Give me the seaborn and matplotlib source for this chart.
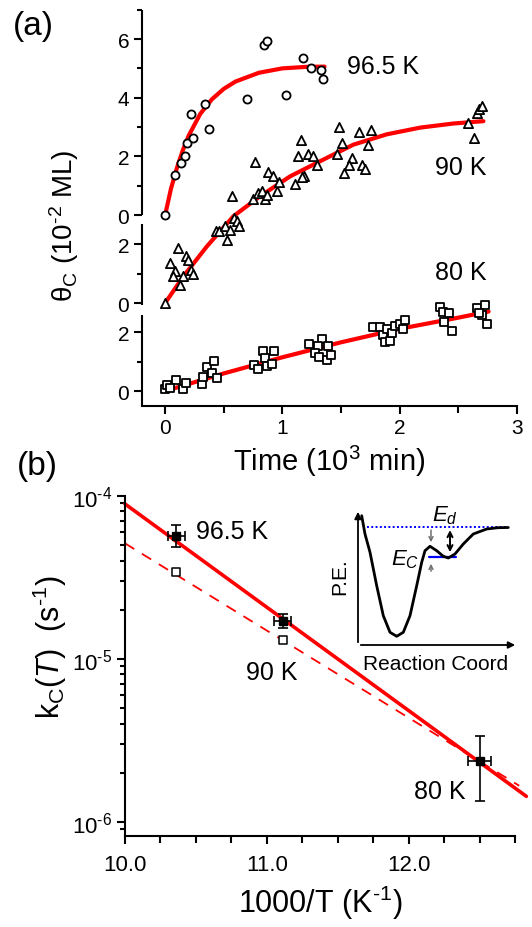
import numpy as np
import pandas as pd
import matplotlib
matplotlib.use('Agg')
import matplotlib.pyplot as plt
import seaborn as sns

# ---------------- panel (a): coverage vs time ----------------
# 96.5 K (circles), time in 10^3 min, coverage in 10^-2 ML
t_965 = [0.0, 0.08, 0.137, 0.17, 0.19, 0.24, 0.22, 0.34, 0.375, 0.70, 0.845, 0.87,
         1.03, 1.18, 1.243, 1.33, 1.345]
th_965 = [0.0, 1.37, 1.79, 2.01, 2.47, 2.61, 3.44, 3.79, 2.92, 3.97, 5.79, 5.94,
          4.09, 5.35, 5.00, 4.95, 4.65]
fit_t_965 = [0.0, 0.05, 0.1, 0.15, 0.2, 0.3, 0.4, 0.5, 0.6, 0.8, 1.0, 1.2, 1.36]
fit_th_965 = [0.0, 0.9, 1.6, 2.2, 2.7, 3.45, 3.95, 4.3, 4.55, 4.85, 5.0, 5.05, 5.06]

# 90 K (triangles)
t_90 = [0.0, 0.108, 0.043, 0.179, 0.199, 0.085, 0.065, 0.151, 0.128, 0.219, 0.242,
        0.569, 0.435, 0.463, 0.512, 0.555, 0.532, 0.589, 0.612, 0.634,
        0.768, 0.754, 0.796, 0.825, 0.853, 0.873, 0.953, 0.881, 0.924, 0.975,
        1.109, 1.186, 1.166, 1.132, 1.158, 1.217, 1.266, 1.294,
        1.485, 1.508, 1.465, 1.593, 1.573, 1.527, 1.658, 1.755, 1.729, 1.678, 1.706,
        2.588, 2.636, 2.66, 2.68, 2.707]
th_90 = [0.0, 1.88, 1.37, 1.59, 1.48, 1.08, 0.91, 0.91, 0.62, 1.14, 1.00,
         3.66, 2.44, 2.44, 2.62, 2.50, 2.16, 2.90, 2.79, 2.64,
         4.80, 3.53, 3.75, 3.81, 3.53, 3.70, 3.81, 4.46, 4.34, 4.12,
         4.07, 4.34, 4.30, 5.00, 5.57, 5.08, 5.00, 4.69,
         6.01, 5.46, 5.08, 4.95, 4.72, 4.44, 5.82, 5.91, 5.40, 4.72, 4.57,
         6.14, 5.63, 6.48, 6.60, 6.73]
fit_t_90 = [0.0, 0.156, 0.356, 0.583, 0.81, 1.067, 1.35, 1.607, 1.89, 2.176, 2.46, 2.716]
fit_th_90 = [0.0, 0.91, 1.93, 2.96, 3.64, 4.32, 4.89, 5.40, 5.75, 5.98, 6.12, 6.20]

# 80 K (squares)
t_80 = [0.0, 0.02, 0.094, 0.151, 0.179, 0.043, 0.313, 0.327, 0.356, 0.418, 0.398, 0.441,
        0.759, 0.796, 0.833, 0.93, 0.853, 0.868, 0.91,
        1.231, 1.337, 1.308, 1.393, 1.28, 1.317, 1.38, 1.416,
        1.778, 1.835, 1.858, 1.877, 1.92, 1.897, 1.94, 1.962, 2.005, 2.028, 2.048,
        2.346, 2.37, 2.426, 2.383, 2.446, 2.665, 2.73, 2.702, 2.682, 2.745]
th_80 = [0.06, 0.19, 0.37, 0.08, 0.26, 0.11, 0.23, 0.49, 0.83, 1.02, 0.60, 0.45,
         0.89, 0.76, 1.36, 1.36, 1.13, 0.85, 0.91,
         1.61, 1.78, 1.55, 1.55, 1.28, 1.17, 1.07, 1.24,
         2.17, 2.17, 1.92, 1.66, 1.69, 2.11, 1.98, 2.23, 2.29, 2.11, 2.41,
         2.88, 2.71, 2.66, 2.37, 2.03, 2.83, 2.94, 2.60, 2.66, 2.28]
fit_t_80 = [0.0, 0.5, 1.0, 1.5, 2.0, 2.5, 2.76]
fit_th_80 = [0.0, 0.6, 1.15, 1.66, 2.12, 2.5, 2.71]

# vertical offsets of the stacked traces (in 10^-2 ML)
offset_965, offset_90, offset_80 = 6.0, 3.0, 0.0

# ---------------- panel (b): Arrhenius plot ----------------
inv_T = [10.363, 11.111, 12.5]
k_fit = [5.67e-5, 1.71e-5, 2.34e-6]
k_lo = [4.82e-5, 1.55e-5, 1.33e-6]
k_hi = [6.64e-5, 1.88e-5, 3.35e-6]
inv_T_err = [0.06, 0.062, 0.082]
inv_T_open = [10.363, 11.111]
k_open = [3.38e-5, 1.30e-5]
line_x = [10.0, 12.83]
line_k = [8.9e-5, 1.43e-6]
dash_x = [10.0, 12.78]
dash_k = [5.1e-5, 1.66e-6]

# inset schematic potential-energy curve (arbitrary units)
pe_x = [3.7, 7.0, 12.0, 18.7, 25.3, 32.0, 38.7, 45.3, 52.0, 58.7, 63.7, 67.0, 72.0,
        78.7, 85.3, 90.3, 97.0, 105.3, 115.3, 128.7, 140.0, 150.3]
pe_y = [129.3, 111.0, 92.7, 59.3, 29.3, 12.7, 8.7, 12.7, 29.3, 59.3, 82.7, 94.3, 98.7,
        94.3, 88.7, 87.0, 91.0, 101.0, 111.0, 116.0, 117.3, 117.5]

sns.set_theme(style='ticks')
plt.rcParams['font.family'] = ['Liberation Sans', 'DejaVu Sans']
plt.rcParams['mathtext.fontset'] = 'custom'
plt.rcParams['mathtext.rm'] = 'Liberation Sans'
plt.rcParams['mathtext.it'] = 'Liberation Sans:italic'
plt.rcParams['mathtext.bf'] = 'Liberation Sans:bold'
plt.rcParams['axes.linewidth'] = 1.5
for k in ['xtick.major.width', 'ytick.major.width', 'xtick.minor.width', 'ytick.minor.width']:
    plt.rcParams[k] = 1.5
for k in ['xtick.color', 'ytick.color', 'text.color', 'axes.labelcolor', 'axes.edgecolor']:
    plt.rcParams[k] = 'black'

W, H = 532, 928
fig = plt.figure(figsize=(W / 100, H / 100), dpi=100)


def px_axes(left, top, right, bottom):
    return fig.add_axes([left / W, 1 - bottom / H, (right - left) / W, (bottom - top) / H])


RED = '#ff0000'

# ---------- (a) ----------
axA = px_axes(141.7, 10.7, 516.7, 406.7)
for s in ['top', 'right', 'left']:
    axA.spines[s].set_visible(False)
axA.set_xlim(-0.2, 3.0)
axA.set_ylim(-0.5, 13.0)

for tt, yy, off in [(fit_t_965, fit_th_965, offset_965),
                    (fit_t_90, fit_th_90, offset_90),
                    (fit_t_80, fit_th_80, offset_80)]:
    sns.lineplot(x=tt, y=np.array(yy) + off, ax=axA, color=RED, lw=3.0, zorder=2,
                 sort=False, estimator=None)

mk = dict(facecolor='white', edgecolor='black', linewidth=1.3, zorder=3, clip_on=False)
sns.scatterplot(x=t_965, y=np.array(th_965) + offset_965, ax=axA, marker='o', s=34, **mk)
sns.scatterplot(x=t_90, y=np.array(th_90) + offset_90, ax=axA, marker='^', s=44, **mk)
sns.scatterplot(x=t_80, y=np.array(th_80) + offset_80, ax=axA, marker='s', s=28, **mk)

# broken left spine: three segments
for a, b in [(-0.5, 2.6), (2.94, 5.68), (6.0, 13.0)]:
    axA.plot([0, 0], [a, b], transform=axA.get_yaxis_transform(), color='black',
             lw=1.5, clip_on=False, solid_capstyle='butt')

axA.set_yticks([0, 2, 3, 5, 6, 8, 10, 12])
axA.set_yticklabels(['0', '2', '0', '2', '0', '2', '4', '6'])
axA.set_yticks([1, 4, 7, 9, 11, 13], minor=True)
axA.set_xticks([0, 1, 2, 3])
axA.set_xticklabels(['0', '1', '2', '3'])
axA.set_xticks([0.5, 1.5, 2.5], minor=True)
axA.tick_params(axis='both', which='major', direction='out', length=6, labelsize=15, pad=3)
axA.tick_params(axis='both', which='minor', direction='out', length=3.6)
axA.tick_params(axis='x', which='minor', length=5)
axA.set_xlabel(r'Time (10$^{3}$ min)', fontsize=21, labelpad=4)
axA.set_ylabel('')

axA.text(1.55, 11.08, '96.5 K', fontsize=18, va='center', ha='left')
axA.text(2.3, 7.64, '90 K', fontsize=18, va='center', ha='left')
axA.text(2.3, 4.06, '80 K', fontsize=18, va='center', ha='left')

fig.text(64 / W, 1 - 226 / H, r'θ$_\mathrm{C}$ (10$^{\text{-}2}$ ML)', rotation=90,
         ha='center', va='center', fontsize=20)
fig.text(33 / W, 1 - 27 / H, '(a)', ha='center', va='center', fontsize=24)
fig.text(37 / W, 1 - 466 / H, '(b)', ha='center', va='center', fontsize=24)

# ---------- (b) ----------
axB = px_axes(125, 496.7, 515, 837.3)
axB.spines['top'].set_visible(False)
axB.spines['right'].set_visible(False)
axB.set_yscale('log')
axB.set_xlim(10.0, 12.75)
axB.set_ylim(10 ** -6.09, 1e-4)

sns.lineplot(x=line_x, y=line_k, ax=axB, color=RED, lw=2.6, zorder=2)
sns.lineplot(x=dash_x, y=dash_k, ax=axB, color=RED, lw=1.3, zorder=2)
axB.lines[-1].set_dashes([6, 5])
for ln in axB.lines:
    ln.set_clip_on(False)

sns.scatterplot(x=inv_T_open, y=k_open, ax=axB, marker='s', s=40, facecolor='white',
                edgecolor='black', linewidth=1.1, zorder=3)
yerr = [np.array(k_fit) - np.array(k_lo), np.array(k_hi) - np.array(k_fit)]
axB.errorbar(inv_T, k_fit, yerr=yerr, xerr=inv_T_err, fmt='s', color='black', ms=6,
             elinewidth=1.2, capsize=3.5, capthick=1.2, zorder=4)

axB.set_xticks([10, 11, 12])
axB.set_xticklabels(['10.0', '11.0', '12.0'])
axB.set_xticks(np.arange(10.25, 12.8, 0.25), minor=True)
axB.set_yticks([1e-6, 1e-5, 1e-4])
axB.set_yticklabels([r'10$^{\text{-}6}$', r'10$^{\text{-}5}$', r'10$^{\text{-}4}$'])
axB.tick_params(axis='both', which='major', direction='out', length=6, labelsize=16, pad=3)
axB.tick_params(axis='x', which='major', pad=7)
axB.tick_params(axis='y', which='minor', direction='out', length=3.6)
axB.tick_params(axis='x', which='minor', direction='out', length=5)
axB.set_xlabel(r'1000/T (K$^{\text{-}1}$)', fontsize=22, labelpad=5)
axB.set_ylabel('')

axB.text(10.5, 10 ** -4.215, '96.5 K', fontsize=18, va='center', ha='left')
axB.text(10.85, 10 ** -5.08, '90 K', fontsize=18, va='center', ha='left')
axB.text(12.04, 10 ** -5.81, '80 K', fontsize=18, va='center', ha='left')

fig.text(50 / W, 1 - 647 / H, r'k$_\mathrm{C}$($T$)  (s$^{\text{-}1}$)', rotation=90,
         ha='center', va='center', fontsize=22)

# ---------- inset ----------
axI = px_axes(358, 510, 518, 646)
axI.set_xlim(0, 160)
axI.set_ylim(0, 136)
axI.axis('off')
axI.patch.set_alpha(0)
axI.annotate('', xy=(0, 136), xytext=(0, 0),
             arrowprops=dict(arrowstyle='-|>', color='black', lw=1.3, mutation_scale=10))
axI.annotate('', xy=(160, 0), xytext=(0, 0),
             arrowprops=dict(arrowstyle='-|>', color='black', lw=1.3, mutation_scale=10))
axI.plot([8.7, 150.3], [117.7, 117.7], color='#0000ff', lw=1.4, ls=(0, (1, 1.2)))
axI.plot([71.3, 98.0], [87.7, 87.7], color='#0000ff', lw=1.6)
sns.lineplot(x=pe_x, y=pe_y, ax=axI, color='black', lw=2.0, sort=False, estimator=None)
axI.annotate('', xy=(73, 100), xytext=(73, 117.7),
             arrowprops=dict(arrowstyle='->', color='#707070', lw=1.1, mutation_scale=7))
axI.annotate('', xy=(73, 84), xytext=(73, 71),
             arrowprops=dict(arrowstyle='->', color='#707070', lw=1.1, mutation_scale=7))
axI.annotate('', xy=(92, 117.7), xytext=(92, 90),
             arrowprops=dict(arrowstyle='<->', color='black', lw=1.4, mutation_scale=9))
axI.text(87, 130, r'$E_d$', fontsize=16, ha='center', va='center')
axI.text(47, 86, r'$E_C$', fontsize=16, ha='center', va='center')
fig.text(340 / W, 1 - 577 / H, 'P.E.', rotation=90, ha='center', va='center', fontsize=15)
fig.text(363 / W, 1 - 665 / H, 'Reaction Coord', ha='left', va='center', fontsize=15)

fig.savefig('out.png', dpi=100)
